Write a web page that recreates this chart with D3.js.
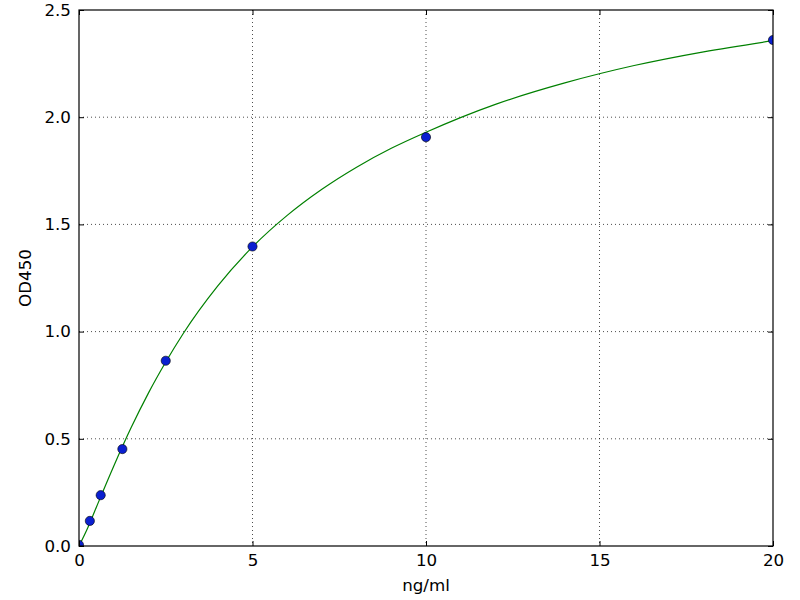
<!DOCTYPE html>
<html>
<head>
<meta charset="utf-8">
<script src="https://cdn.jsdelivr.net/npm/d3@7"></script>
<style>
  body { margin: 0; background: #fff; }
  svg { display: block; }
  text { font-family: "DejaVu Sans", sans-serif; fill: #000; }
</style>
</head>
<body>
<svg id="chart" width="800" height="600"></svg>
<script>
// Standard points (concentration ng/ml, OD450)
const conc = [0, 0.3125, 0.625, 1.25, 2.5, 5, 10, 20];
const od = [0.005, 0.117, 0.237, 0.452, 0.864, 1.397, 1.907, 2.36];

// Fitted curve
const curveX = [0, 0.25, 0.5, 1, 1.5, 2, 2.5, 3, 4, 5, 6, 7, 8, 9, 10, 12, 14, 16, 18, 20];
const curveY = [0, 0.084, 0.181, 0.372, 0.551, 0.713, 0.858, 0.99, 1.213, 1.395, 1.542, 1.664, 1.767, 1.855, 1.930, 2.060, 2.160, 2.241, 2.305, 2.357];

const xTicks = [0, 5, 10, 15, 20];
const yTicks = [0.0, 0.5, 1.0, 1.5, 2.0, 2.5];
const xLabel = "ng/ml";
const yLabel = "OD450";

(function () {
const svg = d3.select("#chart");
const mLeft = 79, mRight = 773, mTop = 10, mBottom = 546;
const fs = "16.7px";

const x = d3.scaleLinear().domain([0, 20]).range([mLeft, mRight]);
const y = d3.scaleLinear().domain([0, 2.5]).range([mBottom, mTop]);

svg.append("defs").append("clipPath").attr("id", "clip")
  .append("rect").attr("x", mLeft).attr("y", mTop)
  .attr("width", mRight - mLeft).attr("height", mBottom - mTop);

// grid
const grid = svg.append("g");
grid.selectAll(".gx").data(xTicks.slice(1, -1)).join("line")
  .attr("x1", d => x(d)).attr("x2", d => x(d))
  .attr("y1", mTop).attr("y2", mBottom)
  .attr("stroke", "#000").attr("stroke-width", 0.7).attr("stroke-dasharray", "1,3");
grid.selectAll(".gy").data(yTicks.slice(1, -1)).join("line")
  .attr("y1", d => y(d)).attr("y2", d => y(d))
  .attr("x1", mLeft).attr("x2", mRight)
  .attr("stroke", "#000").attr("stroke-width", 0.7).attr("stroke-dasharray", "1,3");

// curve
const line = d3.line().x(d => x(d[0])).y(d => y(d[1])).curve(d3.curveMonotoneX);
svg.append("path")
  .datum(curveX.map((v, i) => [v, curveY[i]]))
  .attr("clip-path", "url(#clip)")
  .attr("fill", "none").attr("stroke", "#008000").attr("stroke-width", 1.2)
  .attr("d", line);

// points
svg.append("g").attr("clip-path", "url(#clip)")
  .selectAll("circle").data(conc.map((v, i) => [v, od[i]])).join("circle")
  .attr("cx", d => x(d[0])).attr("cy", d => y(d[1])).attr("r", 4.6)
  .attr("fill", "#0a1fd0").attr("stroke", "#000").attr("stroke-width", 0.6);

// axes (inward ticks on all sides)
const tickLen = 5;
const axB = d3.axisBottom(x).tickValues(xTicks).tickSize(-tickLen).tickPadding(8).tickFormat(d3.format("d"));
const axT = d3.axisTop(x).tickValues(xTicks).tickSize(-tickLen).tickFormat("");
const axL = d3.axisLeft(y).tickValues(yTicks).tickSize(-tickLen).tickPadding(8).tickFormat(d3.format(".1f"));
const axR = d3.axisRight(y).tickValues(yTicks).tickSize(-tickLen).tickFormat("");

function style(g) {
  g.select(".domain").remove();
  g.selectAll("line").attr("stroke", "#000");
  g.selectAll("text").style("font-family", "DejaVu Sans").style("font-size", fs).attr("fill", "#000");
}
svg.append("g").attr("transform", `translate(0,${mBottom})`).call(axB).call(style);
svg.append("g").attr("transform", `translate(0,${mTop})`).call(axT).call(style);
svg.append("g").attr("transform", `translate(${mLeft},0)`).call(axL).call(style);
svg.append("g").attr("transform", `translate(${mRight},0)`).call(axR).call(style);

// frame
svg.append("rect").attr("x", mLeft).attr("y", mTop)
  .attr("width", mRight - mLeft).attr("height", mBottom - mTop)
  .attr("fill", "none").attr("stroke", "#000").attr("stroke-width", 1.2);

// labels
svg.append("text").attr("x", (mLeft + mRight) / 2).attr("y", 591)
  .attr("text-anchor", "middle").style("font-size", fs).text(xLabel);
svg.append("text").attr("transform", `translate(31,${(mTop + mBottom) / 2}) rotate(-90)`)
  .attr("text-anchor", "middle").style("font-size", fs).text(yLabel);
})();
</script>
</body>
</html>
